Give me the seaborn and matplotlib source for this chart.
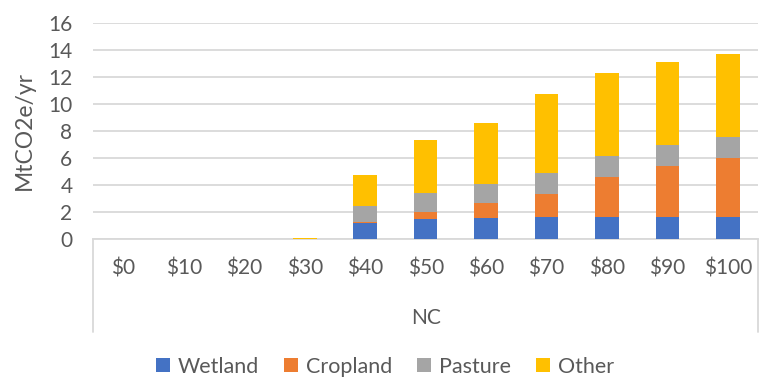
import numpy as np
import pandas as pd
import matplotlib
matplotlib.use("Agg")
import matplotlib.pyplot as plt
from matplotlib.patches import Patch
from matplotlib.lines import Line2D
import seaborn as sns

# Carbon price levels and abatement by land type (MtCO2e/yr)
prices = ["$0", "$10", "$20", "$30", "$40", "$50", "$60", "$70", "$80", "$90", "$100"]
wetland = [0, 0, 0, 0, 1.22, 1.51, 1.57, 1.66, 1.66, 1.66, 1.66]
cropland = [0, 0, 0, 0, 0.07, 0.48, 1.08, 1.72, 2.94, 3.78, 4.34]
pasture = [0, 0, 0, 0, 1.18, 1.44, 1.47, 1.52, 1.58, 1.55, 1.57]
other = [0, 0, 0, 0.10, 2.26, 3.94, 4.50, 5.80, 6.14, 6.12, 6.15]

series_names = ["Wetland", "Cropland", "Pasture", "Other"]
series_values = [wetland, cropland, pasture, other]
colors = ["#4472C4", "#ED7D31", "#A5A5A5", "#FFC000"]
region_label = "NC"
y_title = "MtCO2e/yr"

sns.set_theme(style="white")
plt.rcParams["font.family"] = ["Lato", "DejaVu Sans"]
text_color = "#595959"
grid_color = "#D9D9D9"
fs = 15

df = pd.DataFrame({"price": prices})
cum = np.zeros(len(prices))
for name, vals in zip(series_names, series_values):
    cum = cum + np.array(vals)
    df[name + "_top"] = cum

fig = plt.figure(figsize=(7.59, 3.77), dpi=100)
ax = fig.add_axes([0.1229, 0.3653, 0.8758, 0.5745])

# stacked bars: draw cumulative tops from the highest layer down
for name, color in reversed(list(zip(series_names, colors))):
    sns.barplot(data=df, x="price", y=name + "_top", color=color,
                width=0.39, saturation=1, ax=ax, linewidth=0, zorder=3)

ax.set_ylim(0, 16)
ax.set_yticks(np.arange(0, 17, 2))
ax.set_xlim(-0.5, len(prices) - 0.5)
ax.yaxis.grid(True, color=grid_color, linewidth=1.3, zorder=0)
ax.set_axisbelow(True)
for side in ["left", "right", "top"]:
    ax.spines[side].set_visible(False)
ax.spines["bottom"].set_color(grid_color)
ax.spines["bottom"].set_linewidth(1.3)
ax.tick_params(axis="both", length=0, labelsize=fs, labelcolor=text_color)
ax.tick_params(axis="y", pad=15)
ax.tick_params(axis="x", pad=14)
ax.set_ylabel(y_title, fontsize=16.5, color=text_color)
ax.yaxis.set_label_coords(-0.088, 0.5)
ax.set_xlabel(region_label, fontsize=fs, color=text_color, labelpad=21)

# category-group box edges below the axis
for xpos in (0.0, 1.0):
    ax.add_line(Line2D([xpos, xpos], [0, -0.43], transform=ax.transAxes,
                       color=grid_color, linewidth=1.3, clip_on=False))

handles = [Patch(facecolor=c, edgecolor="none") for c in colors]
leg = fig.legend(handles, series_names, loc="center", bbox_to_anchor=(0.507, 0.027),
                 ncol=4, frameon=False, fontsize=15.5, handlelength=0.65,
                 handleheight=0.65, handletextpad=0.38, columnspacing=1.15,
                 labelcolor=text_color)

fig.savefig("out.png", dpi=100)
